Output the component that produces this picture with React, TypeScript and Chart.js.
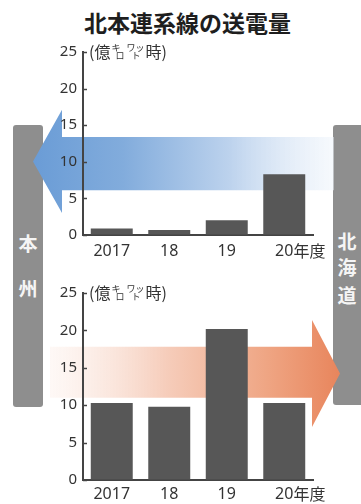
import React, { useEffect, useRef } from 'react';
import { Chart, registerables } from 'chart.js';

Chart.register(...registerables);

// ---- data ----
const title = '北本連系線の送電量';
const categories = ['2017', '18', '19', '20'];
const lastCategorySuffix = '年度';
const toHonshu = [0.9, 0.7, 2.0, 8.3]; // 北海道 → 本州 (top)
const toHokkaido = [10.3, 9.8, 20.2, 10.3]; // 本州 → 北海道 (bottom)
const yTickValues = [0, 5, 10, 15, 20, 25];
const yMax = 25;
const leftRegion = ['本', '州'];
const rightRegion = ['北', '海', '道'];

const NUM_FONT = '"Noto Sans", "Noto Sans CJK JP", sans-serif';
const JP_FONT = '"Noto Sans CJK JP", "Noto Sans", sans-serif';
const BAR_COLOR = '#575757';
const AXIS_COLOR = '#444444';
const TEXT_COLOR = '#333333';

const blueArrow = {
  tipX: 33, headX: 62, tailX: 334,
  bandTop: 13.4, bandBottom: 6.1, headTop: 17.1, headBottom: 3.0,
  gx0: 33, gx1: 334,
  stops: [[0, '#6a9cd6'], [0.3, '#82acdc'], [0.65, '#bcd2ed'], [1, 'rgba(238,244,251,0.5)']],
};
const orangeArrow = {
  tipX: 340, headX: 312, tailX: 50,
  bandTop: 17.8, bandBottom: 11.0, headTop: 21.4, headBottom: 7.1,
  gx0: 50, gx1: 340,
  stops: [[0, 'rgba(252,238,232,0.4)'], [0.4, '#f6cdbb'], [0.75, '#efa583'], [1, '#e8855c']],
};

const decorPlugin = {
  id: 'decor',
  beforeDraw(chart: any, _args: any, o: any) {
    const a = o.arrow;
    if (!a) return;
    const ctx = chart.ctx;
    const y = chart.scales.y;
    const yt = y.getPixelForValue(a.bandTop);
    const yb = y.getPixelForValue(a.bandBottom);
    const ht = y.getPixelForValue(a.headTop);
    const hb = y.getPixelForValue(a.headBottom);
    const tipY = (ht + hb) / 2;
    const g = ctx.createLinearGradient(a.gx0, 0, a.gx1, 0);
    a.stops.forEach((s: any) => g.addColorStop(s[0], s[1]));
    ctx.save();
    ctx.beginPath();
    ctx.moveTo(a.tipX, tipY);
    ctx.lineTo(a.headX, ht);
    ctx.lineTo(a.headX, yt);
    ctx.lineTo(a.tailX, yt);
    ctx.lineTo(a.tailX, yb);
    ctx.lineTo(a.headX, yb);
    ctx.lineTo(a.headX, hb);
    ctx.closePath();
    ctx.fillStyle = g;
    ctx.fill();
    ctx.restore();
  },
  afterDraw(chart: any, _args: any, o: any) {
    const ctx = chart.ctx;
    const { left, bottom } = chart.chartArea;
    const ys = chart.scales.y;
    const xs = chart.scales.x;
    ctx.save();
    // inward tick marks
    ctx.strokeStyle = AXIS_COLOR;
    ctx.lineWidth = 1.5;
    yTickValues.forEach((v) => {
      const py = Math.round(ys.getPixelForValue(v)) + 0.5;
      ctx.beginPath();
      ctx.moveTo(left, py);
      ctx.lineTo(left + 4, py);
      ctx.stroke();
    });
    // unit label
    ctx.fillStyle = TEXT_COLOR;
    ctx.textBaseline = 'middle';
    ctx.textAlign = 'left';
    const uy = ys.getPixelForValue(yMax);
    let ux = left + 6;
    ctx.font = `16px ${JP_FONT}`;
    ctx.fillText('(億', ux, uy);
    ux += ctx.measureText('(億').width + 1;
    ctx.font = `9px ${JP_FONT}`;
    ctx.fillText('キ', ux, uy - 4);
    ctx.fillText('ロ', ux + 4, uy + 4);
    ux += 15;
    ctx.fillText('ワッ', ux, uy - 4);
    ctx.fillText('ト', ux + 5, uy + 4);
    ux += 19;
    ctx.font = `16px ${JP_FONT}`;
    ctx.fillText('時)', ux, uy);
    // x labels
    const ly = bottom + (o.labelGap || 15);
    categories.forEach((c, i) => {
      const px = xs.getPixelForValue(i);
      ctx.font = `16px ${NUM_FONT}`;
      ctx.textAlign = 'center';
      ctx.fillText(c, px, ly);
      if (i === categories.length - 1) {
        const w = ctx.measureText(c).width;
        ctx.textAlign = 'left';
        ctx.font = `16px ${JP_FONT}`;
        ctx.fillText(lastCategorySuffix, px + w / 2, ly);
      }
    });
    ctx.restore();
  },
};

function makeChart(canvas: HTMLCanvasElement, values: number[], arrow: any, padTop: number, xHeight: number, labelGap: number) {
  return new Chart(canvas, {
    type: 'bar',
    data: {
      labels: categories,
      datasets: [
        {
          data: values,
          backgroundColor: BAR_COLOR,
          borderWidth: 0,
          barPercentage: 0.73,
          categoryPercentage: 1,
        },
      ],
    },
    plugins: [decorPlugin],
    options: {
      animation: false,
      responsive: false,
      maintainAspectRatio: false,
      events: [],
      layout: { padding: { top: padTop, right: 48, left: 0, bottom: 0 } },
      plugins: {
        legend: { display: false },
        tooltip: { enabled: false },
        title: { display: false },
        decor: { arrow, labelGap },
      } as any,
      scales: {
        x: {
          type: 'category',
          offset: true,
          grid: { display: true, drawOnChartArea: false, drawTicks: false },
          border: { display: true, color: AXIS_COLOR, width: 2 },
          ticks: { display: false },
          afterFit: (s: any) => { s.height = xHeight; },
        },
        y: {
          min: 0,
          max: yMax,
          afterBuildTicks: (s: any) => { s.ticks = yTickValues.map((v) => ({ value: v })); },
          grid: { display: true, drawOnChartArea: false, drawTicks: false },
          border: { display: true, color: AXIS_COLOR, width: 2 },
          ticks: {
            padding: 6,
            color: TEXT_COLOR,
            font: { family: NUM_FONT, size: 15 },
          },
          afterFit: (s: any) => { s.width = 83; },
        },
      },
    },
  });
}

export default function App() {
  const topRef = useRef<HTMLCanvasElement>(null);
  const botRef = useRef<HTMLCanvasElement>(null);

  useEffect(() => {
    const c1 = makeChart(topRef.current!, toHonshu, blueArrow, 52, 25, 16);
    const c2 = makeChart(botRef.current!, toHokkaido, orangeArrow, 33, 24, 14);
    return () => {
      c1.destroy();
      c2.destroy();
    };
  }, []);

  const sideText: React.CSSProperties = {
    position: 'absolute',
    left: 0,
    width: '100%',
    textAlign: 'center',
    color: '#f5f5f5',
    fontFamily: JP_FONT,
    fontWeight: 700,
    fontSize: 19,
    lineHeight: '20px',
  };

  return (
    <div style={{ position: 'absolute', left: 0, top: 0, width: 361, height: 504, background: '#fff', overflow: 'hidden' }}>
      <div
        style={{
          position: 'absolute', left: 0, top: 9, width: 375, textAlign: 'center',
          fontFamily: JP_FONT, fontWeight: 700, fontSize: 23, lineHeight: '26px', color: '#1e1e1e',
        }}
      >
        {title}
      </div>
      <div style={{ position: 'absolute', left: 13, top: 125, width: 30, height: 282, background: '#8e8e8e', borderRadius: 3 }}>
        {leftRegion.map((t, i) => (
          <div key={t} style={{ ...sideText, top: [108, 153][i] }}>{t}</div>
        ))}
      </div>
      <div style={{ position: 'absolute', left: 333, top: 125, width: 34, height: 280, background: '#8e8e8e', borderRadius: 3 }}>
        {rightRegion.map((t, i) => (
          <div key={t} style={{ ...sideText, width: 28, top: [106, 132, 160][i] }}>{t}</div>
        ))}
      </div>
      <canvas ref={topRef} width={361} height={260} style={{ position: 'absolute', left: 0, top: 0 }} />
      <canvas ref={botRef} width={361} height={244} style={{ position: 'absolute', left: 0, top: 260 }} />
    </div>
  );
}
